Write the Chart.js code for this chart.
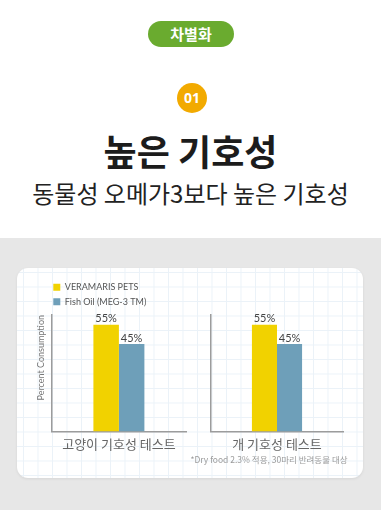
<!DOCTYPE html>
<html><head><meta charset="utf-8">
<script src="https://cdn.jsdelivr.net/npm/chart.js@4/dist/chart.umd.min.js"></script>
<style>
html,body{margin:0;padding:0;}
body{width:381px;height:510px;position:relative;background:#fff;overflow:hidden;font-family:"Noto Sans CJK KR","Noto Sans",sans-serif;}
#gray{position:absolute;left:0;top:238px;width:381px;height:272px;background:#e7e7e7;}
#card{position:absolute;left:17px;top:268px;width:346px;height:210px;border-radius:11px;background-color:#fff;
 background-image:linear-gradient(to right,#ebf2f8 1px,transparent 1px),linear-gradient(to bottom,#ebf2f8 1px,transparent 1px);
 background-size:14.5px 14.5px;background-position:6px 4px;box-shadow:0 1px 3px rgba(0,0,0,0.08);}
#pill{position:absolute;left:148px;top:21px;width:86px;height:26px;border-radius:13px;background:#6aab2f;color:#fff;
 font-weight:700;font-size:15px;line-height:26px;text-align:center;}
#num{position:absolute;left:177px;top:83px;width:30px;height:30px;border-radius:15px;background:#f2aa00;color:#fff;
 font-family:"Noto Sans",sans-serif;font-weight:700;font-size:14px;line-height:30px;text-align:center;}
#title{position:absolute;left:0;top:126px;width:381px;text-align:center;font-size:36px;font-weight:700;color:#1c1c1c;line-height:48px;}
#sub{position:absolute;left:0;top:177px;width:381px;text-align:center;font-size:24px;font-weight:400;color:#222;line-height:32px;}
#note{position:absolute;left:180px;top:452px;width:178px;text-align:center;font-size:8.5px;color:#9a9a9a;line-height:14px;}
#c1wrap{position:absolute;left:30px;top:280px;width:165px;height:177px;}
#c2wrap{position:absolute;left:205px;top:280px;width:145px;height:177px;}
</style></head>
<body>
<div id="gray"></div>
<div id="card"></div>
<div id="pill">차별화</div>
<div id="num">01</div>
<div id="title">높은 기호성</div>
<div id="sub">동물성 오메가3보다 높은 기호성</div>
<div id="c1wrap"><canvas id="c1"></canvas></div>
<div id="c2wrap"><canvas id="c2"></canvas></div>
<div id="note">*Dry food 2.3% 적용, 30마리 반려동물 대상</div>
<script>
const seriesNames = ["VERAMARIS PETS", "Fish Oil (MEG-3 TM)"];
const catTest = ["고양이 기호성 테스트"];
const dogTest = ["개 기호성 테스트"];
const veramarisCat = [55];
const fishOilCat = [45];
const veramarisDog = [55];
const fishOilDog = [45];
const yTitle = "Percent Consumption";
const yMax = 60;

const colYellow = "#f1d200";
const colBlue = "#6e9fb9";
const axisCol = "#9c9c9c";

const valueLabels = {
  id: "valueLabels",
  afterDatasetsDraw(chart) {
    const ctx = chart.ctx;
    ctx.save();
    ctx.font = "11px Lato, 'Noto Sans', sans-serif";
    ctx.fillStyle = "#444";
    ctx.textAlign = "center";
    ctx.textBaseline = "alphabetic";
    chart.data.datasets.forEach((ds, i) => {
      chart.getDatasetMeta(i).data.forEach((bar, j) => {
        ctx.fillText(ds.data[j] + "%", bar.x, bar.y - 2.5);
      });
    });
    ctx.restore();
  }
};

const legendTweak = {
  id: "legendTweak",
  beforeInit(chart) {
    const lg = chart.legend;
    if (!lg) return;
    const origFit = lg.fit;
    lg.fit = function () { origFit.call(this); this.height -= 3.8; };
    const origDraw = lg.draw;
    lg.draw = function (area) {
      const c = this.ctx;
      c.save();
      c.translate(-3.9, -2.6);
      origDraw.call(this, area);
      c.restore();
    };
  }
};

function makeOpts(showLegend, showTitle, pad) {
  return {
    responsive: true, maintainAspectRatio: false, animation: false,
    layout: { padding: pad },
    plugins: {
      legend: {
        display: showLegend, position: "top", align: "start", fullSize: false,
        labels: { boxWidth: 7, boxHeight: 7, padding: 5.4, color: "#555",
          font: { family: "Lato, 'Noto Sans', sans-serif", size: 9 } }
      },
      tooltip: { enabled: false }
    },
    scales: {
      x: {
        grid: { display: false, drawTicks: false },
        border: { display: true, color: axisCol, width: 1.5 },
        ticks: { color: "#666", padding: 5, font: { family: "'Noto Sans CJK KR', sans-serif", size: 13 } }
      },
      y: {
        min: 0, max: yMax,
        grid: { display: false, drawTicks: false },
        border: { display: true, color: axisCol, width: 1.5 },
        ticks: { display: false },
        title: { display: showTitle, text: yTitle, color: "#777", align: "end", padding: { top: 0, bottom: 5 },
          font: { family: "Lato, 'Noto Sans', sans-serif", size: 9 } }
      }
    }
  };
}

function ds(data, label, color) {
  return { label, data, backgroundColor: color, borderWidth: 0, barPercentage: 1, categoryPercentage: 0.38 };
}

const chart1 = new Chart(document.getElementById("c1"), {
  type: "bar",
  data: { labels: catTest, datasets: [ds(veramarisCat, seriesNames[0], colYellow), ds(fishOilCat, seriesNames[1], colBlue)] },
  options: makeOpts(true, true, { top: 0, left: 6, right: 9, bottom: 0 }),
  plugins: [valueLabels, legendTweak]
});

const topPad = chart1.chartArea.top;
const chart2 = new Chart(document.getElementById("c2"), {
  type: "bar",
  data: { labels: dogTest, datasets: [ds(veramarisDog, seriesNames[0], colYellow), ds(fishOilDog, seriesNames[1], colBlue)] },
  options: makeOpts(false, false, { top: topPad, left: 6, right: 7, bottom: 0 }),
  plugins: [valueLabels]
});
</script>
</body></html>
